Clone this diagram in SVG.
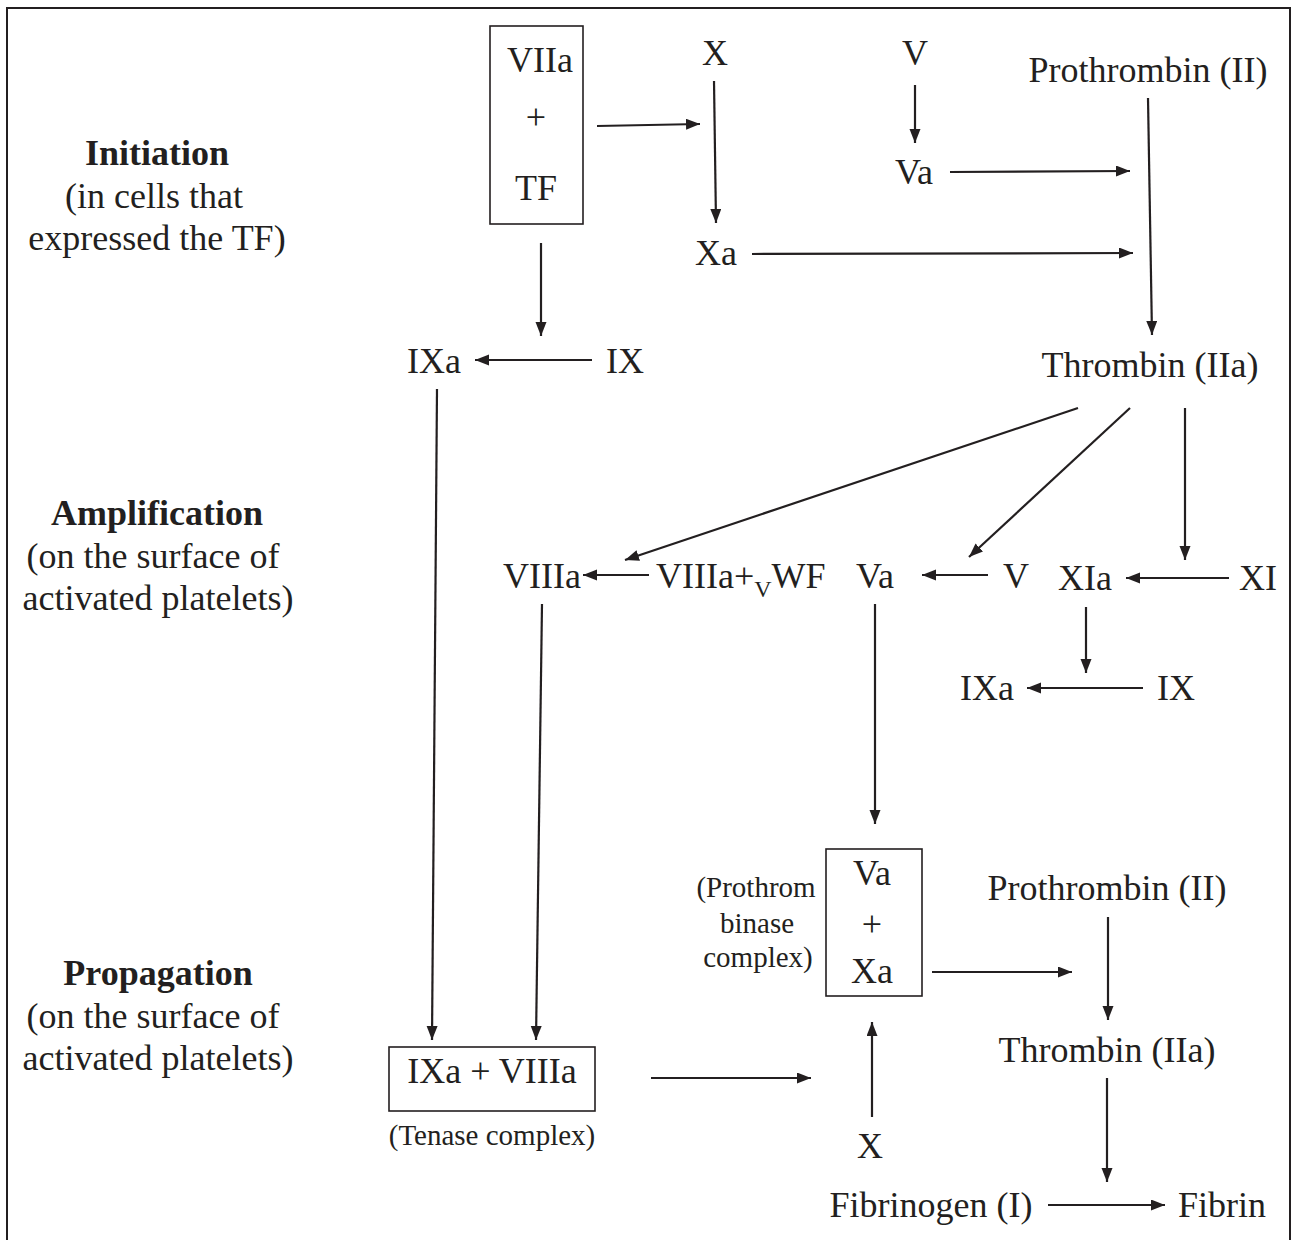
<svg xmlns="http://www.w3.org/2000/svg" width="1293" height="1240" viewBox="0 0 1293 1240">
<style>
text{font-family:"Liberation Serif","Times New Roman",serif;font-size:36px;fill:#231f20;text-anchor:middle}
.b{font-weight:bold}
.s{font-size:29px}
.st{text-anchor:start}
.box{fill:none;stroke:#231f20;stroke-width:1.6}
#connectors line{stroke:#231f20;stroke-width:2.2;marker-end:url(#ah)}
</style>
<defs>
<marker id="ah" markerUnits="userSpaceOnUse" markerWidth="15" markerHeight="12" refX="14" refY="5.5" orient="auto">
<path d="M0,0 L14,5.5 L0,11 z" fill="#231f20"/>
</marker>
</defs>
<rect width="1293" height="1240" fill="#fff"/>
<path d="M7,1240 V8 H1290 V1240" fill="none" stroke="#231f20" stroke-width="2"/>

<g id="phase-labels">
<text class="b" x="157" y="165">Initiation</text>
<text x="154" y="208">(in cells that</text>
<text x="157" y="250">expressed the TF)</text>
<text class="b" x="157" y="525">Amplification</text>
<text x="153" y="568">(on the surface of</text>
<text x="158" y="610">activated platelets)</text>
<text class="b" x="158" y="985">Propagation</text>
<text x="153" y="1028">(on the surface of</text>
<text x="158" y="1070">activated platelets)</text>
</g>

<g id="n-VIIa-TF">
<rect class="box" x="490" y="26" width="93" height="198"/>
<text x="540" y="72">VIIa</text>
<text x="536" y="129">+</text>
<text x="536" y="200">TF</text>
</g>
<g id="n-X-top"><text x="715" y="65">X</text></g>
<g id="n-V-top"><text x="915" y="65">V</text></g>
<g id="n-prothrombin-top"><text x="1148" y="82">Prothrombin (II)</text></g>
<g id="n-Va-top"><text x="914" y="184">Va</text></g>
<g id="n-Xa-top"><text x="716" y="265">Xa</text></g>
<g id="n-IXa-top"><text x="434" y="373">IXa</text></g>
<g id="n-IX-top"><text x="625" y="373">IX</text></g>
<g id="n-thrombin-top"><text x="1150" y="377">Thrombin (IIa)</text></g>

<g id="n-VIIIa"><text x="542" y="588">VIIIa</text></g>
<g id="n-VIIIa-vWF"><text class="st" x="656" y="588">VIIIa+<tspan font-size="24" dy="9">V</tspan><tspan dy="-9">WF</tspan></text></g>
<g id="n-Va-mid"><text x="875" y="588">Va</text></g>
<g id="n-V-mid"><text x="1016" y="588">V</text></g>
<g id="n-XIa"><text x="1085" y="590">XIa</text></g>
<g id="n-XI"><text x="1258" y="590">XI</text></g>
<g id="n-IXa-mid"><text x="987" y="700">IXa</text></g>
<g id="n-IX-mid"><text x="1176" y="700">IX</text></g>

<g id="n-prothrombinase">
<rect class="box" x="826" y="849" width="96" height="147"/>
<text x="872" y="885">Va</text>
<text x="872" y="936">+</text>
<text x="872" y="983">Xa</text>
<text class="s" x="756" y="897">(Prothrom</text>
<text class="s" x="757" y="933">binase</text>
<text class="s" x="758" y="967">complex)</text>
</g>
<g id="n-prothrombin-bot"><text x="1107" y="900">Prothrombin (II)</text></g>
<g id="n-thrombin-bot"><text x="1107" y="1062">Thrombin (IIa)</text></g>
<g id="n-X-bot"><text x="870" y="1158">X</text></g>
<g id="n-fibrinogen"><text x="931" y="1217">Fibrinogen (I)</text></g>
<g id="n-fibrin"><text x="1222" y="1217">Fibrin</text></g>
<g id="n-tenase">
<rect class="box" x="389" y="1047" width="206" height="64"/>
<text x="492" y="1083">IXa + VIIIa</text>
<text class="s" x="492" y="1145">(Tenase complex)</text>
</g>

<g id="connectors">
<line x1="597" y1="126" x2="700" y2="124"/>
<line x1="714" y1="81" x2="716" y2="223"/>
<line x1="915" y1="85" x2="915" y2="143"/>
<line x1="950" y1="172" x2="1130" y2="171"/>
<line x1="752" y1="254" x2="1133" y2="253"/>
<line x1="1148" y1="98" x2="1152" y2="335"/>
<line x1="541" y1="243" x2="541" y2="336"/>
<line x1="592" y1="360" x2="475" y2="360"/>
<line x1="437" y1="389" x2="432" y2="1040"/>
<line x1="542" y1="604" x2="536" y2="1040"/>
<line x1="1078" y1="408" x2="625" y2="560"/>
<line x1="1130" y1="408" x2="969" y2="557"/>
<line x1="1185" y1="408" x2="1185" y2="560"/>
<line x1="649" y1="575" x2="583" y2="575"/>
<line x1="988" y1="575" x2="922" y2="575"/>
<line x1="1229" y1="578" x2="1126" y2="578"/>
<line x1="1086" y1="607" x2="1086" y2="673"/>
<line x1="1143" y1="688" x2="1027" y2="688"/>
<line x1="875" y1="604" x2="875" y2="824"/>
<line x1="651" y1="1078" x2="811" y2="1078"/>
<line x1="872" y1="1117" x2="872" y2="1022"/>
<line x1="932" y1="972" x2="1072" y2="972"/>
<line x1="1108" y1="917" x2="1108" y2="1020"/>
<line x1="1107" y1="1078" x2="1107" y2="1182"/>
<line x1="1048" y1="1205" x2="1165" y2="1205"/>
</g>
</svg>
